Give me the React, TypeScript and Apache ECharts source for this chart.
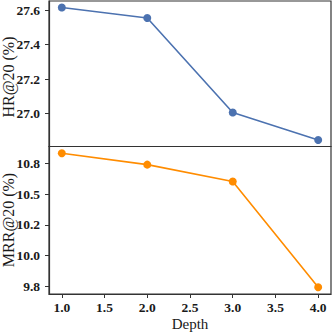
import React, { useEffect, useRef } from 'react';
import * as echarts from 'echarts';

const depths = [1, 2, 3, 4];
const hrValues = [27.615, 27.554, 27.006, 26.847];
const mrrValues = [10.835, 10.742, 10.605, 9.742];
const xTickValues = [1, 1.5, 2, 2.5, 3, 3.5, 4];
const xTickLabels = ['1.0', '1.5', '2.0', '2.5', '3.0', '3.5', '4.0'];
const hrTickValues = [27.0, 27.2, 27.4, 27.6];
const hrTickLabels = ['27.0', '27.2', '27.4', '27.6'];
const mrrTickValues = [9.75, 10, 10.25, 10.5, 10.75];
const mrrTickLabels = ['9.8', '10.0', '10.2', '10.5', '10.8'];
const xName = 'Depth';
const hrName = 'HR@20 (%)';
const mrrName = 'MRR@20 (%)';

const SERIF = 'Liberation Serif';
const AXIS_COLOR = '#333333';
const TEXT_COLOR = '#1a1a1a';

function labelFor(values: number[], labels: string[]) {
  return (v: number) => {
    let best = 0;
    for (let i = 0; i < values.length; i++) {
      if (Math.abs(values[i] - v) < Math.abs(values[best] - v)) best = i;
    }
    return '{t|' + labels[best] + '}';
  };
}

const tokenStyle = { fontFamily: SERIF, fontWeight: 'bold', fontSize: 13.5, color: TEXT_COLOR };

export default function App() {
  const ref = useRef<HTMLDivElement>(null);
  useEffect(() => {
    if (!ref.current) return;
    const chart = echarts.init(ref.current, undefined, { renderer: 'svg' });
    const yLabelBase = { ...tokenStyle, rich: { t: { ...tokenStyle, align: 'right' } } };
    const xLabelBase = { ...tokenStyle, rich: { t: { ...tokenStyle, align: 'center' } } };
    const gridBase = {
      left: 49, width: 282, show: true, borderColor: AXIS_COLOR, borderWidth: 1.2,
      backgroundColor: 'transparent', containLabel: false, outerBoundsMode: 'none',
    };
    chart.setOption({
      animation: false,
      backgroundColor: '#ffffff',
      textStyle: { fontFamily: SERIF },
      graphic: [
        {
          type: 'text', x: 8, y: 77, rotation: Math.PI / 2,
          style: { text: hrName, font: '16px "Liberation Serif"', fill: TEXT_COLOR, align: 'center', verticalAlign: 'middle' },
        },
        {
          type: 'text', x: 8, y: 220, rotation: Math.PI / 2,
          style: { text: mrrName, font: '16px "Liberation Serif"', fill: TEXT_COLOR, align: 'center', verticalAlign: 'middle' },
        },
      ],
      grid: [
        { ...gridBase, top: 1, height: 145.5 },
        { ...gridBase, top: 146.5, height: 147.5 },
      ],
      xAxis: [
        {
          type: 'value', gridIndex: 0, min: 0.85, max: 4.15,
          axisLine: { show: false }, axisTick: { show: false }, axisLabel: { show: false }, splitLine: { show: false },
        },
        {
          type: 'value', gridIndex: 1, min: 0.85, max: 4.15,
          name: xName, nameLocation: 'middle', nameGap: 22, nameMoveOverlap: false,
          nameTextStyle: { fontFamily: SERIF, fontSize: 15, color: TEXT_COLOR },
          axisLine: { show: true, onZero: false, lineStyle: { color: AXIS_COLOR, width: 1.2 } },
          axisTick: { show: true, length: 4, customValues: xTickValues, lineStyle: { color: AXIS_COLOR, width: 1 } },
          axisLabel: { show: true, margin: 6, customValues: xTickValues, formatter: labelFor(xTickValues, xTickLabels), ...xLabelBase },
          splitLine: { show: false },
        },
      ],
      yAxis: [
        {
          type: 'value', gridIndex: 0, min: 26.809, max: 27.653,
          axisLine: { show: true, onZero: false, lineStyle: { color: AXIS_COLOR, width: 1.2 } },
          axisTick: { show: true, length: 4, customValues: hrTickValues, lineStyle: { color: AXIS_COLOR, width: 1 } },
          axisLabel: { show: true, margin: 9, customValues: hrTickValues, formatter: labelFor(hrTickValues, hrTickLabels), ...yLabelBase },
          splitLine: { show: false },
        },
        {
          type: 'value', gridIndex: 1, min: 9.687, max: 10.89,
          axisLine: { show: true, onZero: false, lineStyle: { color: AXIS_COLOR, width: 1.2 } },
          axisTick: { show: true, length: 4, customValues: mrrTickValues, lineStyle: { color: AXIS_COLOR, width: 1 } },
          axisLabel: { show: true, margin: 9, customValues: mrrTickValues, formatter: labelFor(mrrTickValues, mrrTickLabels), ...yLabelBase },
          splitLine: { show: false },
        },
      ],
      series: [
        {
          type: 'line', xAxisIndex: 0, yAxisIndex: 0,
          data: depths.map((d, i) => [d, hrValues[i]]),
          symbol: 'circle', symbolSize: 8,
          lineStyle: { color: '#4C72B0', width: 1.6 },
          itemStyle: { color: '#4C72B0' },
        },
        {
          type: 'line', xAxisIndex: 1, yAxisIndex: 1,
          data: depths.map((d, i) => [d, mrrValues[i]]),
          symbol: 'circle', symbolSize: 8,
          lineStyle: { color: '#FF8C00', width: 1.6 },
          itemStyle: { color: '#FF8C00' },
        },
      ],
    });
    return () => chart.dispose();
  }, []);
  return (
    <div style={{ position: 'fixed', left: 0, top: 0, width: 332, height: 332, background: '#fff' }}>
      <div ref={ref} style={{ width: 332, height: 332 }} />
    </div>
  );
}
